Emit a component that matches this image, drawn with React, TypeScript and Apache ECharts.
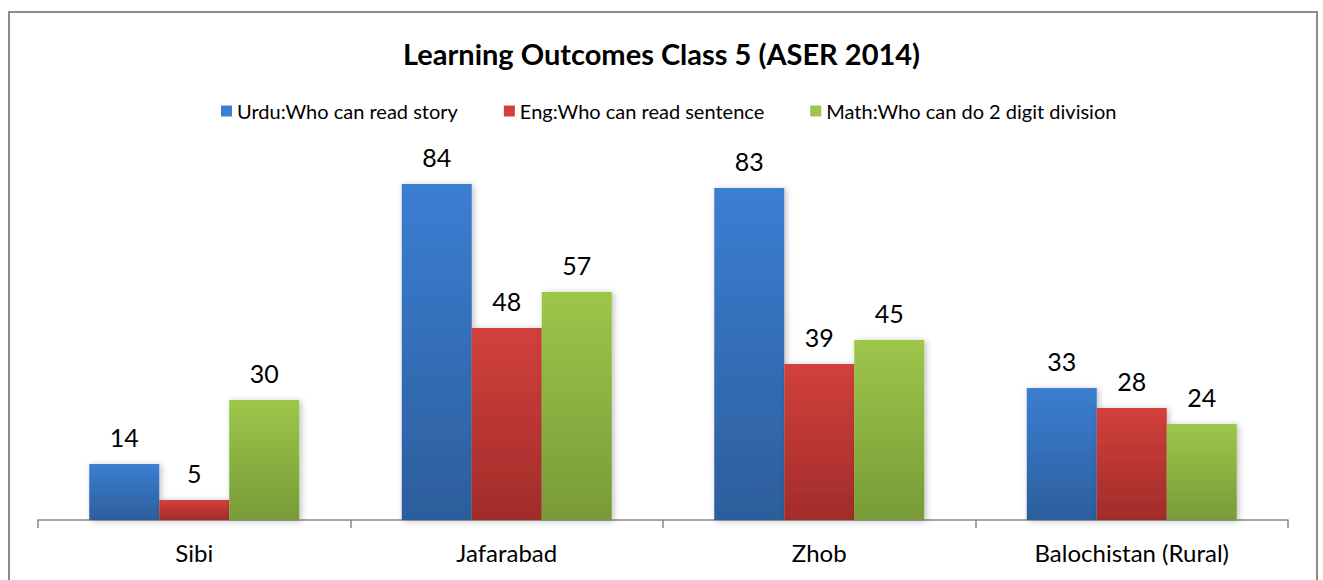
import React, { useEffect, useRef } from "react";
import * as echarts from "echarts";

const categories = ["Sibi", "Jafarabad", "Zhob", "Balochistan (Rural)"];
const seriesNames = [
  "Urdu:Who can read story",
  "Eng:Who can read sentence",
  "Math:Who can do 2 digit division",
];
const urdu = [14, 84, 83, 33];
const eng = [5, 48, 39, 28];
const math = [30, 57, 45, 24];

const grad = (top: string, bottom: string) =>
  new echarts.graphic.LinearGradient(0, 0, 0, 1, [
    { offset: 0, color: top },
    { offset: 1, color: bottom },
  ]);

const FONT = "Lato, 'Open Sans', sans-serif";

export default function App() {
  const ref = useRef<HTMLDivElement>(null);
  useEffect(() => {
    const chart = echarts.init(ref.current!, null, { renderer: "svg" });
    const colors = [
      ["#3B7ED2", "#2C5E9C"],
      ["#D2403C", "#A12C2A"],
      ["#9DC64A", "#789B37"],
    ];
    const data = [urdu, eng, math];
    chart.setOption({
      animation: false,
      backgroundColor: "#fff",
      title: {
        text: "Learning Outcomes Class 5 (ASER 2014)",
        left: "center",
        top: 34,
        textStyle: { fontFamily: FONT, fontSize: 29, fontWeight: "bold", color: "#000" },
      },
      legend: {
        top: 96,
        left: 216,
        itemWidth: 11,
        itemHeight: 11,
        itemGap: 46,
        icon: "rect",
        textStyle: { fontFamily: FONT, fontSize: 20, color: "#000" },
        data: seriesNames.map((n, i) => ({ name: n, itemStyle: { color: colors[i][0] } })),
      },
      graphic: [
        {
          type: "rect",
          shape: { x: 9, y: 12, width: 1308, height: 600 },
          style: { fill: "none", stroke: "#8c8c8c", lineWidth: 2 },
          silent: true,
        },
      ],
      grid: { left: 38, right: 35, top: 120, bottom: 60 },
      xAxis: {
        type: "category",
        data: categories,
        axisLine: { lineStyle: { color: "#888", width: 1.5 } },
        axisTick: { show: true, length: 8, lineStyle: { color: "#888", width: 1.5 } },
        axisLabel: { fontFamily: FONT, fontSize: 24, color: "#000", margin: 20 },
      },
      yAxis: {
        type: "value",
        min: 0,
        max: 100,
        show: false,
        splitLine: { show: false },
      },
      series: seriesNames.map((name, i) => ({
        name,
        type: "bar",
        data: data[i],
        barGap: "0%",
        barCategoryGap: "32.8%",
        itemStyle: {
          color: grad(colors[i][0], colors[i][1]),
          shadowColor: "rgba(0,0,0,0.25)",
          shadowBlur: 6,
          shadowOffsetX: 2,
          shadowOffsetY: 1,
        },
        label: {
          show: true,
          position: "top",
          distance: 15,
          fontFamily: FONT,
          fontSize: 25,
          color: "#000",
        },
      })),
    });
    return () => chart.dispose();
  }, []);
  return (
    <div
      ref={ref}
      style={{ position: "absolute", left: 0, top: 0, width: 1323, height: 580 }}
    />
  );
}
